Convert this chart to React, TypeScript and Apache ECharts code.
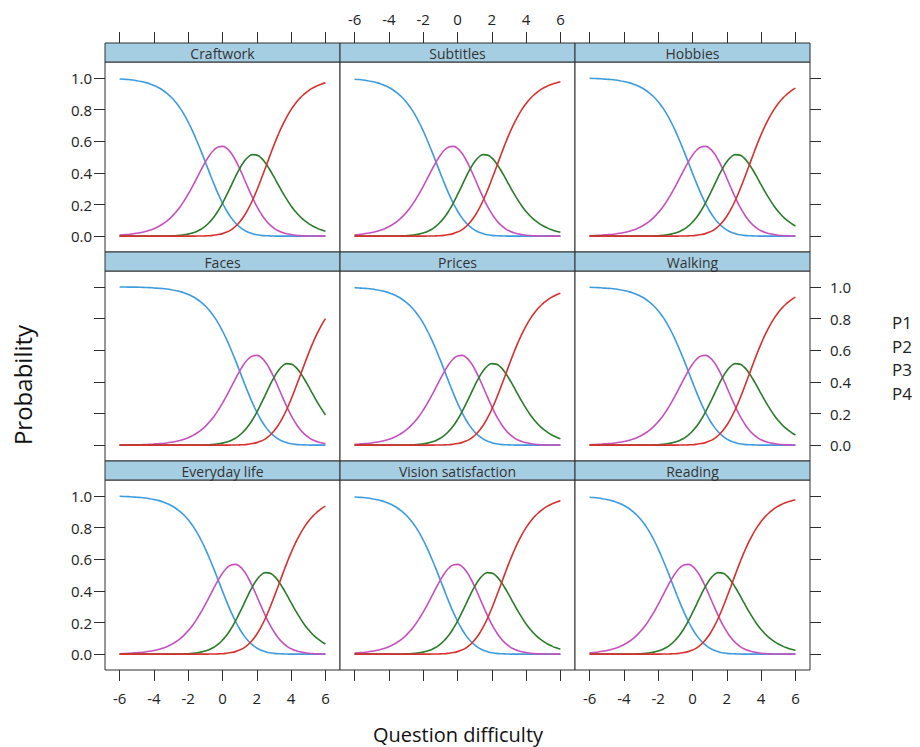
import React, { useEffect, useRef } from "react";
import * as echarts from "echarts";

// ---------- data ----------
const panelNames = [
  "Craftwork", "Subtitles", "Hobbies",
  "Faces", "Prices", "Walking",
  "Everyday life", "Vision satisfaction", "Reading",
];
const seriesNames = ["P1", "P2", "P3", "P4"];
const xValues = [
  -6, -5.75, -5.5, -5.25, -5, -4.75, -4.5, -4.25, -4, -3.75, -3.5, -3.25, -3, -2.75, -2.5, -2.25,
  -2, -1.75, -1.5, -1.25, -1, -0.75, -0.5, -0.25, 0, 0.25, 0.5, 0.75, 1, 1.25, 1.5, 1.75,
  2, 2.25, 2.5, 2.75, 3, 3.25, 3.5, 3.75, 4, 4.25, 4.5, 4.75, 5, 5.25, 5.5, 5.75, 6,
];
const xTicks = [-6, -4, -2, 0, 2, 4, 6];
const yTicks = [0, 0.2, 0.4, 0.6, 0.8, 1.0];

// Craftwork, Vision satisfaction (curves read at the x values above)
const p1Loc100 = [0.993, 0.991, 0.989, 0.986, 0.982, 0.977, 0.971, 0.963, 0.952, 0.939, 0.923, 0.903, 0.879, 0.849, 0.813, 0.771, 0.721, 0.665, 0.603, 0.537, 0.468, 0.398, 0.33, 0.266, 0.209, 0.159, 0.117, 0.084, 0.058, 0.039, 0.025, 0.016, 0.009, 0.005, 0.003, 0.002, 0.001,
  0, 0, 0, 0, 0, 0, 0, 0, 0, 0, 0, 0];
const p2Loc100 = [0.007, 0.009, 0.011, 0.014, 0.018, 0.023, 0.029, 0.037, 0.047, 0.06, 0.076, 0.095, 0.119, 0.148, 0.181, 0.221, 0.265, 0.314, 0.366, 0.418, 0.468, 0.511, 0.544, 0.563, 0.567, 0.554, 0.525, 0.481, 0.427, 0.366, 0.303, 0.243, 0.188, 0.142, 0.103, 0.073, 0.051, 0.034, 0.023, 0.015, 0.01, 0.006, 0.004, 0.002, 0.001, 0.001, 0.001, 0, 0];
const p3Loc100 = [0, 0, 0, 0, 0, 0, 0, 0, 0,
  0.001, 0.001, 0.001, 0.002, 0.003, 0.005, 0.009, 0.013, 0.02, 0.03, 0.044, 0.063, 0.089, 0.121, 0.161, 0.209, 0.262, 0.318, 0.375, 0.427, 0.47, 0.5, 0.515, 0.512, 0.494, 0.462, 0.421, 0.374, 0.325, 0.276, 0.232, 0.191, 0.156, 0.126, 0.101, 0.081, 0.064, 0.051, 0.04, 0.031];
const p4Loc100 = [0, 0, 0, 0, 0, 0, 0, 0, 0, 0, 0, 0, 0, 0, 0, 0, 0, 0,
  0.001, 0.001, 0.002, 0.003, 0.006, 0.01, 0.016, 0.026, 0.04, 0.061, 0.089, 0.126, 0.172, 0.227, 0.29, 0.359, 0.431, 0.504, 0.575, 0.641, 0.701, 0.754, 0.799, 0.838, 0.87, 0.896, 0.918, 0.935, 0.949, 0.96, 0.968];

// Faces
const p1Loc300 = [0.999, 0.999, 0.998, 0.998, 0.998, 0.997, 0.996, 0.995, 0.993, 0.991, 0.989, 0.986, 0.982, 0.977, 0.971, 0.963, 0.952, 0.939, 0.923, 0.903, 0.879, 0.849, 0.813, 0.771, 0.721, 0.665, 0.603, 0.537, 0.468, 0.398, 0.33, 0.266, 0.209, 0.159, 0.117, 0.084, 0.058, 0.039, 0.025, 0.016, 0.009, 0.005, 0.003, 0.002, 0.001,
  0, 0, 0, 0];
const p2Loc300 = [0.001, 0.001, 0.002, 0.002, 0.002, 0.003, 0.004, 0.005, 0.007, 0.009, 0.011, 0.014, 0.018, 0.023, 0.029, 0.037, 0.047, 0.06, 0.076, 0.095, 0.119, 0.148, 0.181, 0.221, 0.265, 0.314, 0.366, 0.418, 0.468, 0.511, 0.544, 0.563, 0.567, 0.554, 0.525, 0.481, 0.427, 0.366, 0.303, 0.243, 0.188, 0.142, 0.103, 0.073, 0.051, 0.034, 0.023, 0.015, 0.01];
const p3Loc300 = [0, 0, 0, 0, 0, 0, 0, 0, 0, 0, 0, 0, 0, 0, 0, 0, 0,
  0.001, 0.001, 0.001, 0.002, 0.003, 0.005, 0.009, 0.013, 0.02, 0.03, 0.044, 0.063, 0.089, 0.121, 0.161, 0.209, 0.262, 0.318, 0.375, 0.427, 0.47, 0.5, 0.515, 0.512, 0.494, 0.462, 0.421, 0.374, 0.325, 0.276, 0.232, 0.191];
const p4Loc300 = [0, 0, 0, 0, 0, 0, 0, 0, 0, 0, 0, 0, 0, 0, 0, 0, 0, 0, 0, 0, 0, 0, 0, 0, 0, 0,
  0.001, 0.001, 0.002, 0.003, 0.006, 0.01, 0.016, 0.026, 0.04, 0.061, 0.089, 0.126, 0.172, 0.227, 0.29, 0.359, 0.431, 0.504, 0.575, 0.641, 0.701, 0.754, 0.799];

// Subtitles, Reading
const p1Loc075 = [0.991, 0.989, 0.986, 0.982, 0.977, 0.971, 0.963, 0.952, 0.939, 0.923, 0.903, 0.879, 0.849, 0.813, 0.771, 0.721, 0.665, 0.603, 0.537, 0.468, 0.398, 0.33, 0.266, 0.209, 0.159, 0.117, 0.084, 0.058, 0.039, 0.025, 0.016, 0.009, 0.005, 0.003, 0.002, 0.001,
  0, 0, 0, 0, 0, 0, 0, 0, 0, 0, 0, 0, 0];
const p2Loc075 = [0.009, 0.011, 0.014, 0.018, 0.023, 0.029, 0.037, 0.047, 0.06, 0.076, 0.095, 0.119, 0.148, 0.181, 0.221, 0.265, 0.314, 0.366, 0.418, 0.468, 0.511, 0.544, 0.563, 0.567, 0.554, 0.525, 0.481, 0.427, 0.366, 0.303, 0.243, 0.188, 0.142, 0.103, 0.073, 0.051, 0.034, 0.023, 0.015, 0.01, 0.006, 0.004, 0.002, 0.001, 0.001, 0.001, 0, 0, 0];
const p3Loc075 = [0, 0, 0, 0, 0, 0, 0, 0,
  0.001, 0.001, 0.001, 0.002, 0.003, 0.005, 0.009, 0.013, 0.02, 0.03, 0.044, 0.063, 0.089, 0.121, 0.161, 0.209, 0.262, 0.318, 0.375, 0.427, 0.47, 0.5, 0.515, 0.512, 0.494, 0.462, 0.421, 0.374, 0.325, 0.276, 0.232, 0.191, 0.156, 0.126, 0.101, 0.081, 0.064, 0.051, 0.04, 0.031, 0.025];
const p4Loc075 = [0, 0, 0, 0, 0, 0, 0, 0, 0, 0, 0, 0, 0, 0, 0, 0, 0,
  0.001, 0.001, 0.002, 0.003, 0.006, 0.01, 0.016, 0.026, 0.04, 0.061, 0.089, 0.126, 0.172, 0.227, 0.29, 0.359, 0.431, 0.504, 0.575, 0.641, 0.701, 0.754, 0.799, 0.838, 0.87, 0.896, 0.918, 0.935, 0.949, 0.96, 0.968, 0.975];

// Prices
const p1Loc125 = [0.995, 0.993, 0.991, 0.989, 0.986, 0.982, 0.977, 0.971, 0.963, 0.952, 0.939, 0.923, 0.903, 0.879, 0.849, 0.813, 0.771, 0.721, 0.665, 0.603, 0.537, 0.468, 0.398, 0.33, 0.266, 0.209, 0.159, 0.117, 0.084, 0.058, 0.039, 0.025, 0.016, 0.009, 0.005, 0.003, 0.002, 0.001,
  0, 0, 0, 0, 0, 0, 0, 0, 0, 0, 0];
const p2Loc125 = [0.005, 0.007, 0.009, 0.011, 0.014, 0.018, 0.023, 0.029, 0.037, 0.047, 0.06, 0.076, 0.095, 0.119, 0.148, 0.181, 0.221, 0.265, 0.314, 0.366, 0.418, 0.468, 0.511, 0.544, 0.563, 0.567, 0.554, 0.525, 0.481, 0.427, 0.366, 0.303, 0.243, 0.188, 0.142, 0.103, 0.073, 0.051, 0.034, 0.023, 0.015, 0.01, 0.006, 0.004, 0.002, 0.001, 0.001, 0.001, 0];
const p3Loc125 = [0, 0, 0, 0, 0, 0, 0, 0, 0, 0,
  0.001, 0.001, 0.001, 0.002, 0.003, 0.005, 0.009, 0.013, 0.02, 0.03, 0.044, 0.063, 0.089, 0.121, 0.161, 0.209, 0.262, 0.318, 0.375, 0.427, 0.47, 0.5, 0.515, 0.512, 0.494, 0.462, 0.421, 0.374, 0.325, 0.276, 0.232, 0.191, 0.156, 0.126, 0.101, 0.081, 0.064, 0.051, 0.04];
const p4Loc125 = [0, 0, 0, 0, 0, 0, 0, 0, 0, 0, 0, 0, 0, 0, 0, 0, 0, 0, 0,
  0.001, 0.001, 0.002, 0.003, 0.006, 0.01, 0.016, 0.026, 0.04, 0.061, 0.089, 0.126, 0.172, 0.227, 0.29, 0.359, 0.431, 0.504, 0.575, 0.641, 0.701, 0.754, 0.799, 0.838, 0.87, 0.896, 0.918, 0.935, 0.949, 0.96];

// Hobbies, Walking, Everyday life
const p1Loc175 = [0.997, 0.996, 0.995, 0.993, 0.991, 0.989, 0.986, 0.982, 0.977, 0.971, 0.963, 0.952, 0.939, 0.923, 0.903, 0.879, 0.849, 0.813, 0.771, 0.721, 0.665, 0.603, 0.537, 0.468, 0.398, 0.33, 0.266, 0.209, 0.159, 0.117, 0.084, 0.058, 0.039, 0.025, 0.016, 0.009, 0.005, 0.003, 0.002, 0.001,
  0, 0, 0, 0, 0, 0, 0, 0, 0];
const p2Loc175 = [0.003, 0.004, 0.005, 0.007, 0.009, 0.011, 0.014, 0.018, 0.023, 0.029, 0.037, 0.047, 0.06, 0.076, 0.095, 0.119, 0.148, 0.181, 0.221, 0.265, 0.314, 0.366, 0.418, 0.468, 0.511, 0.544, 0.563, 0.567, 0.554, 0.525, 0.481, 0.427, 0.366, 0.303, 0.243, 0.188, 0.142, 0.103, 0.073, 0.051, 0.034, 0.023, 0.015, 0.01, 0.006, 0.004, 0.002, 0.001, 0.001];
const p3Loc175 = [0, 0, 0, 0, 0, 0, 0, 0, 0, 0, 0, 0,
  0.001, 0.001, 0.001, 0.002, 0.003, 0.005, 0.009, 0.013, 0.02, 0.03, 0.044, 0.063, 0.089, 0.121, 0.161, 0.209, 0.262, 0.318, 0.375, 0.427, 0.47, 0.5, 0.515, 0.512, 0.494, 0.462, 0.421, 0.374, 0.325, 0.276, 0.232, 0.191, 0.156, 0.126, 0.101, 0.081, 0.064];
const p4Loc175 = [0, 0, 0, 0, 0, 0, 0, 0, 0, 0, 0, 0, 0, 0, 0, 0, 0, 0, 0, 0, 0,
  0.001, 0.001, 0.002, 0.003, 0.006, 0.01, 0.016, 0.026, 0.04, 0.061, 0.089, 0.126, 0.172, 0.227, 0.29, 0.359, 0.431, 0.504, 0.575, 0.641, 0.701, 0.754, 0.799, 0.838, 0.87, 0.896, 0.918, 0.935];

const panelCurves = [
  [p1Loc100, p2Loc100, p3Loc100, p4Loc100], // Craftwork
  [p1Loc075, p2Loc075, p3Loc075, p4Loc075], // Subtitles
  [p1Loc175, p2Loc175, p3Loc175, p4Loc175], // Hobbies
  [p1Loc300, p2Loc300, p3Loc300, p4Loc300], // Faces
  [p1Loc125, p2Loc125, p3Loc125, p4Loc125], // Prices
  [p1Loc175, p2Loc175, p3Loc175, p4Loc175], // Walking
  [p1Loc175, p2Loc175, p3Loc175, p4Loc175], // Everyday life
  [p1Loc100, p2Loc100, p3Loc100, p4Loc100], // Vision satisfaction
  [p1Loc075, p2Loc075, p3Loc075, p4Loc075], // Reading
];

// ---------- style / layout ----------
const FONT = '"Open Sans", "Noto Sans", "DejaVu Sans", sans-serif';
const seriesColors = ["#3d9be0", "#c651be", "#2a7b2a", "#d8302e"];
const STRIP_FILL = "#a6cee3";
const BORDER = "#2e2e2e";
const COL_LEFT = [105, 340, 575];
const PANEL_W = 235;
const STRIP_TOP = [43, 252, 461];
const STRIP_H = 19;
const PLOT_H = 190;
const X_MIN = -6.85;
const X_MAX = 6.85;
const Y_MIN = -0.1;
const Y_MAX = 1.1;

export default function App() {
  const ref = useRef<HTMLDivElement>(null);

  useEffect(() => {
    if (!ref.current) return;
    document.body.style.margin = "0";
    const chart = echarts.init(ref.current, null, { renderer: "svg" });

    const grids: any[] = [];
    const xAxes: any[] = [];
    const yAxes: any[] = [];
    const extraX: any[] = [];
    const extraY: any[] = [];
    const series: any[] = [];
    const graphics: any[] = [];

    const tickStyle = { color: BORDER, width: 1 };
    const labelStyle = { fontSize: 15, color: "#222", fontFamily: FONT };

    const xAxis = (gridIndex: number, position: string, ticks: boolean, labels: boolean, offset: number, margin: number) => ({
      type: "value",
      gridIndex,
      position,
      offset,
      min: X_MIN,
      max: X_MAX,
      axisLine: { show: false, onZero: false },
      axisTick: { show: ticks, inside: false, length: 11, lineStyle: tickStyle, customValues: xTicks },
      axisLabel: { show: labels, margin, customValues: xTicks, formatter: (v: number) => String(v), ...labelStyle },
      splitLine: { show: false },
    });
    const yAxis = (gridIndex: number, position: string, ticks: boolean, labels: boolean, margin: number) => ({
      type: "value",
      gridIndex,
      position,
      min: Y_MIN,
      max: Y_MAX,
      axisLine: { show: false, onZero: false },
      axisTick: { show: ticks, inside: false, length: 11, lineStyle: tickStyle, customValues: yTicks },
      axisLabel: { show: labels, margin, customValues: yTicks, formatter: (v: number) => v.toFixed(1), ...labelStyle },
      splitLine: { show: false },
    });

    panelNames.forEach((name, i) => {
      const r = Math.floor(i / 3);
      const c = i % 3;
      const left = COL_LEFT[c];
      const stripTop = STRIP_TOP[r];
      const top = stripTop + STRIP_H;

      grids.push({
        left, top, width: PANEL_W, height: PLOT_H,
        show: true, borderColor: BORDER, borderWidth: 1, backgroundColor: "#fff",
        containLabel: false, outerBoundsMode: "none",
      });

      xAxes.push(xAxis(i, "bottom", r === 2, r === 2 && c !== 1, 0, 20));
      if (r === 0) extraX.push(xAxis(i, "top", true, c === 1, STRIP_H, 17));
      yAxes.push(yAxis(i, "left", c === 0, c === 0 && r !== 1, 13));
      if (c === 2) extraY.push(yAxis(i, "right", true, r === 1, 20));

      // strip
      graphics.push({
        type: "rect",
        shape: { x: left, y: stripTop, width: PANEL_W, height: STRIP_H },
        style: { fill: STRIP_FILL, stroke: BORDER, lineWidth: 1 },
        z: 10,
      });
      graphics.push({
        type: "text",
        x: left + PANEL_W / 2,
        y: stripTop + STRIP_H / 2 + 0.5,
        style: { text: name, fontSize: 14, fontFamily: FONT, fill: "#333", align: "center", verticalAlign: "middle" },
        z: 11,
      });

      panelCurves[i].forEach((vals, k) => {
        series.push({
          type: "line",
          name: seriesNames[k],
          xAxisIndex: i,
          yAxisIndex: i,
          data: xValues.map((x, j) => [x, vals[j]]),
          showSymbol: false,
          symbol: "none",
          smooth: true,
          silent: true,
          lineStyle: { width: 1.6, color: seriesColors[k] },
          itemStyle: { color: seriesColors[k] },
          z: 2 + k,
        });
      });
    });

    // key: the reference shows only the names, stacked
    const KEY_GAP = 23.4;
    seriesNames.forEach((nm, k) => {
      graphics.push({
        type: "text",
        x: 892,
        y: 358 + (k - 1.5) * KEY_GAP,
        style: { text: nm, fontSize: 17, fontFamily: FONT, fill: "#222", align: "left", verticalAlign: "middle" },
      });
    });

    graphics.push({
      type: "text",
      x: 22,
      y: 385,
      rotation: Math.PI / 2,
      style: { text: "Probability", fontSize: 24, fontFamily: FONT, fill: "#111", align: "center", verticalAlign: "middle" },
    });
    graphics.push({
      type: "text",
      x: 458,
      y: 734,
      style: { text: "Question difficulty", fontSize: 20, fontFamily: FONT, fill: "#111", align: "center", verticalAlign: "middle" },
    });

    chart.setOption({
      animation: false,
      backgroundColor: "#fff",
      grid: grids,
      xAxis: [...xAxes, ...extraX],
      yAxis: [...yAxes, ...extraY],
      tooltip: { show: false },
      series,
      graphic: graphics,
    });

    return () => chart.dispose();
  }, []);

  return <div ref={ref} style={{ width: 920, height: 747, background: "#fff" }} />;
}
